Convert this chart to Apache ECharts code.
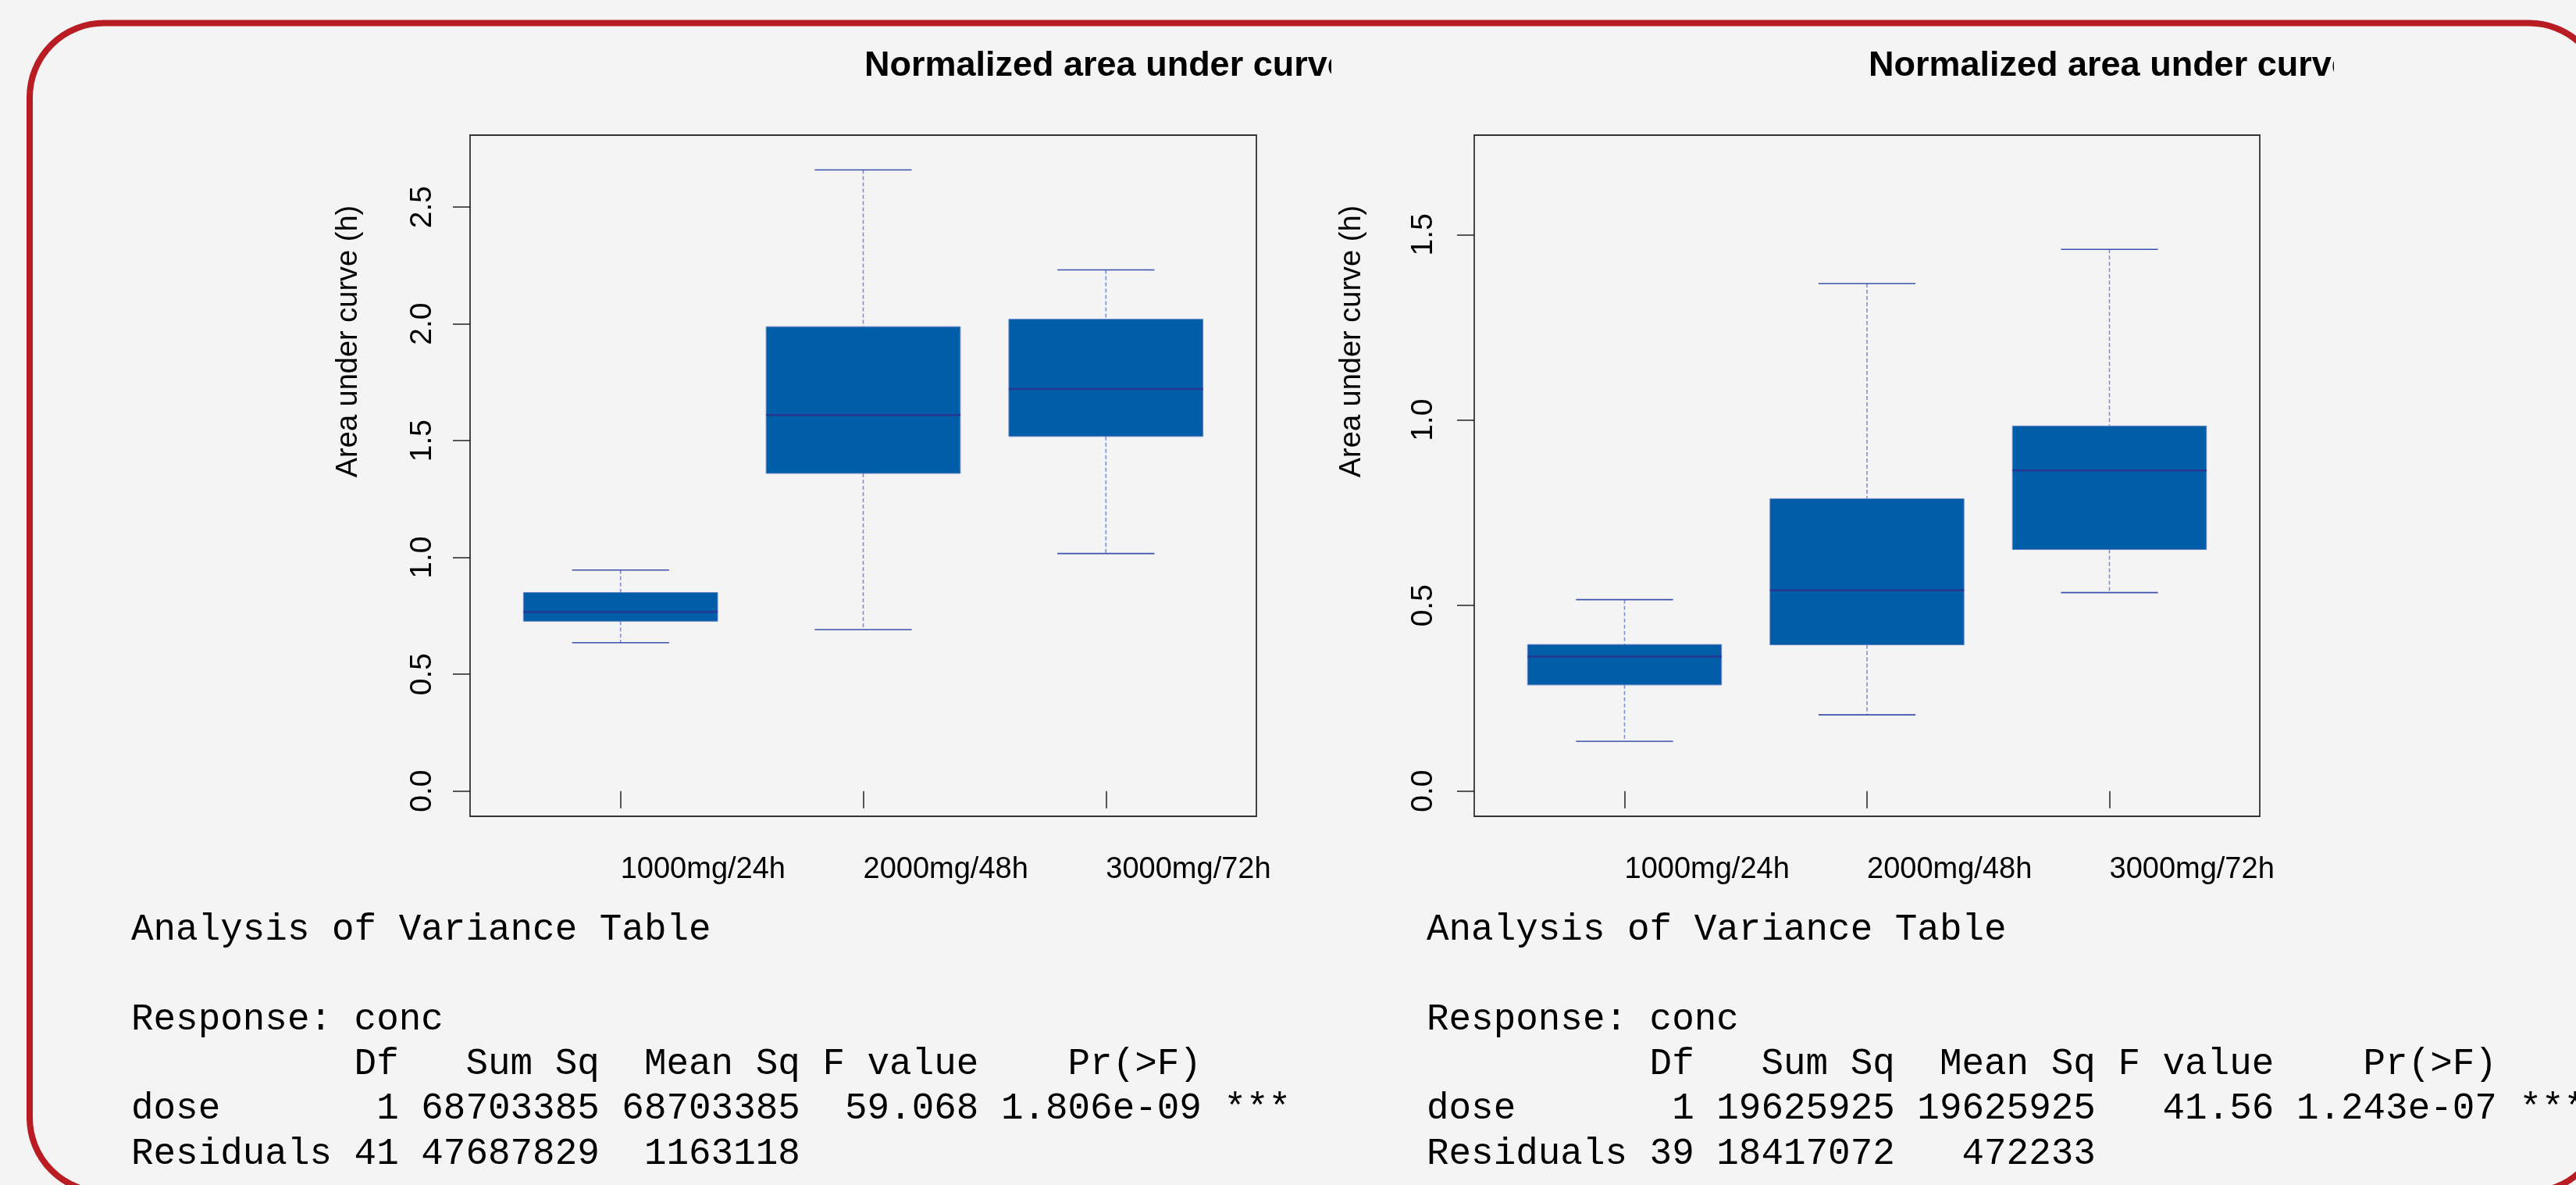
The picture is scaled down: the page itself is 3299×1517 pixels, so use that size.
<!DOCTYPE html>
<html><head><meta charset="utf-8">
<script src="https://cdn.jsdelivr.net/npm/echarts@6/dist/echarts.min.js"></script>
<style>html,body{margin:0;padding:0;background:#f4f4f4;overflow:hidden}#c{width:3299px;height:1517px;}</style>
</head><body><div id="c"></div>
<script>
const categories = ['1000mg/24h', '2000mg/48h', '3000mg/72h'];
const panelTitle = 'Normalized area under curve';
const yAxisTitle = 'Area under curve (h)';
const yTicksLeft = [0, 0.5, 1, 1.5, 2, 2.5];
const yTicksRight = [0, 0.5, 1, 1.5];

// left panel: whisker low, Q1, median, Q3, whisker high
const leftMin = [0.635, 0.691, 1.017];
const leftQ1 = [0.727, 1.360, 1.518];
const leftMedian = [0.767, 1.610, 1.721];
const leftQ3 = [0.850, 1.988, 2.020];
const leftMax = [0.946, 2.659, 2.231];

// right panel
const rightMin = [0.134, 0.2055, 0.535];
const rightQ1 = [0.286, 0.394, 0.651];
const rightMedian = [0.3625, 0.5415, 0.864];
const rightQ3 = [0.395, 0.788, 0.984];
const rightMax = [0.516, 1.368, 1.460];

const anovaLeft = [
  'Analysis of Variance Table',
  '',
  'Response: conc',
  '          Df   Sum Sq  Mean Sq F value    Pr(>F)    ',
  'dose       1 68703385 68703385  59.068 1.806e-09 ***',
  'Residuals 41 47687829  1163118                      '
];
const anovaRight = [
  'Analysis of Variance Table',
  '',
  'Response: conc',
  '          Df   Sum Sq  Mean Sq F value    Pr(>F)    ',
  'dose       1 19625925 19625925   41.56 1.243e-07 ***',
  'Residuals 39 18417072   472233                      '
];

const SANS = '"Liberation Sans", Arial, Helvetica, sans-serif';
const MONO = '"Liberation Mono", "Courier New", monospace';
const BG = '#f4f4f4';

function rows(mn, q1, md, q3, mx) {
  return mn.map((v, i) => [i + 1, mn[i], q1[i], md[i], q3[i], mx[i]]);
}

function renderBox(params, api) {
  const x = api.value(0);
  const pMin = api.coord([x, api.value(1)]);
  const pQ1 = api.coord([x, api.value(2)]);
  const pMed = api.coord([x, api.value(3)]);
  const pQ3 = api.coord([x, api.value(4)]);
  const pMax = api.coord([x, api.value(5)]);
  const bw = api.size([0.8, 0])[0];
  const cw = bw / 4;
  const cx = pMed[0];
  const whisk = { stroke: '#7f8fcb', lineWidth: 1.6, lineDash: [5, 3], fill: null };
  const cap = { stroke: '#3a50ad', lineWidth: 1.6, fill: null };
  return {
    type: 'group',
    children: [
      { type: 'line', shape: { x1: cx, y1: pMax[1], x2: cx, y2: pQ3[1] }, style: whisk },
      { type: 'line', shape: { x1: cx, y1: pQ1[1], x2: cx, y2: pMin[1] }, style: whisk },
      { type: 'line', shape: { x1: cx - cw, y1: pMax[1], x2: cx + cw, y2: pMax[1] }, style: cap },
      { type: 'line', shape: { x1: cx - cw, y1: pMin[1], x2: cx + cw, y2: pMin[1] }, style: cap },
      { type: 'rect', shape: { x: cx - bw / 2, y: pQ3[1], width: bw, height: pQ1[1] - pQ3[1] },
        style: { fill: '#005ea8', stroke: '#6982c6', lineWidth: 1 } },
      { type: 'line', shape: { x1: cx - bw / 2, y1: pMed[1], x2: cx + bw / 2, y2: pMed[1] },
        style: { stroke: '#27378f', lineWidth: 2.5, fill: null } }
    ]
  };
}

function xAxisCfg(idx) {
  return {
    type: 'value', gridIndex: idx, min: 0.38, max: 3.62,
    splitLine: { show: false },
    axisLine: { show: false },
    axisTick: { show: true, customValues: [1, 2, 3], length: 22, lineStyle: { color: '#222', width: 1.5 } },
    axisLabel: {
      show: true, customValues: [1, 2, 3], margin: 50,
      formatter: v => categories[Math.round(v) - 1] || '',
      align: 'left', verticalAlign: 'top',
      fontFamily: SANS, fontSize: 38, color: '#000'
    }
  };
}
function yAxisCfg(idx, min, max, ticks, margin) {
  return {
    type: 'value', gridIndex: idx, min: min, max: max,
    splitLine: { show: false },
    axisLine: { show: false },
    axisTick: { show: true, customValues: ticks, length: 22, lineStyle: { color: '#222', width: 1.5 } },
    axisLabel: {
      show: true, customValues: ticks, rotate: 90, margin: margin,
      formatter: v => v.toFixed(1),
      fontFamily: SANS, fontSize: 39, color: '#000'
    }
  };
}

const graphics = [];
// red rounded frame (right and bottom edges run past the picture)
graphics.push({ type: 'rect', z: 1, shape: { x: 38, y: 29.5, width: 3296, height: 1496.5, r: 95 },
  style: { fill: 'none', stroke: '#ba1c23', lineWidth: 8 } });
// cut-off heading fragment at very top
graphics.push({ type: 'text', z: 1, style: { text: 'p', x: 644, y: -54, font: 'bold 110px ' + SANS, fill: '#000', align: 'left', verticalAlign: 'middle' } });
// panel titles (clipped on the right)
[[1107, 1705], [2393, 2989]].forEach(([tx, clipX]) => {
  graphics.push({ type: 'text', z: 5, style: { text: panelTitle, x: tx, y: 84.5, font: 'bold 45px ' + SANS, fill: '#000', align: 'left', verticalAlign: 'middle' } });
  graphics.push({ type: 'rect', z: 6, shape: { x: clipX, y: 50, width: 90, height: 70 }, style: { fill: BG } });
});
// y axis titles
[446.5, 1732].forEach(cx => {
  graphics.push({ type: 'text', z: 5, x: cx, y: 437, rotation: Math.PI / 2,
    style: { text: yAxisTitle, x: 0, y: 0, font: '38px ' + SANS, fill: '#000', align: 'center', verticalAlign: 'middle' } });
});
// ANOVA tables
const baselines = [1203, 1260, 1318, 1375, 1432, 1490];
[[168, anovaLeft], [1827, anovaRight]].forEach(([tx, lines]) => {
  lines.forEach((ln, i) => {
    if (!ln) return;
    graphics.push({ type: 'text', z: 5, style: { text: ln, x: tx, y: baselines[i] - 13, font: '47.6px ' + MONO, fill: '#000', align: 'left', verticalAlign: 'middle' } });
  });
});

const option = {
  backgroundColor: BG,
  animation: false,
  grid: [
    { left: 602, top: 173, width: 1007, height: 872, show: true, borderColor: '#333', borderWidth: 1.8, backgroundColor: 'transparent' },
    { left: 1888, top: 173, width: 1006, height: 872, show: true, borderColor: '#333', borderWidth: 1.8, backgroundColor: 'transparent' }
  ],
  xAxis: [xAxisCfg(0), xAxisCfg(1)],
  yAxis: [yAxisCfg(0, -0.108, 2.808, yTicksLeft, 41), yAxisCfg(1, -0.068, 1.768, yTicksRight, 45)],
  series: [
    { type: 'custom', xAxisIndex: 0, yAxisIndex: 0, renderItem: renderBox, silent: true,
      encode: { x: 0, y: [1, 2, 3, 4, 5] }, data: rows(leftMin, leftQ1, leftMedian, leftQ3, leftMax) },
    { type: 'custom', xAxisIndex: 1, yAxisIndex: 1, renderItem: renderBox, silent: true,
      encode: { x: 0, y: [1, 2, 3, 4, 5] }, data: rows(rightMin, rightQ1, rightMedian, rightQ3, rightMax) }
  ],
  graphic: { elements: graphics }
};
const chart = echarts.init(document.getElementById('c'), null, { renderer: 'canvas' });
chart.setOption(option);
</script></body></html>
